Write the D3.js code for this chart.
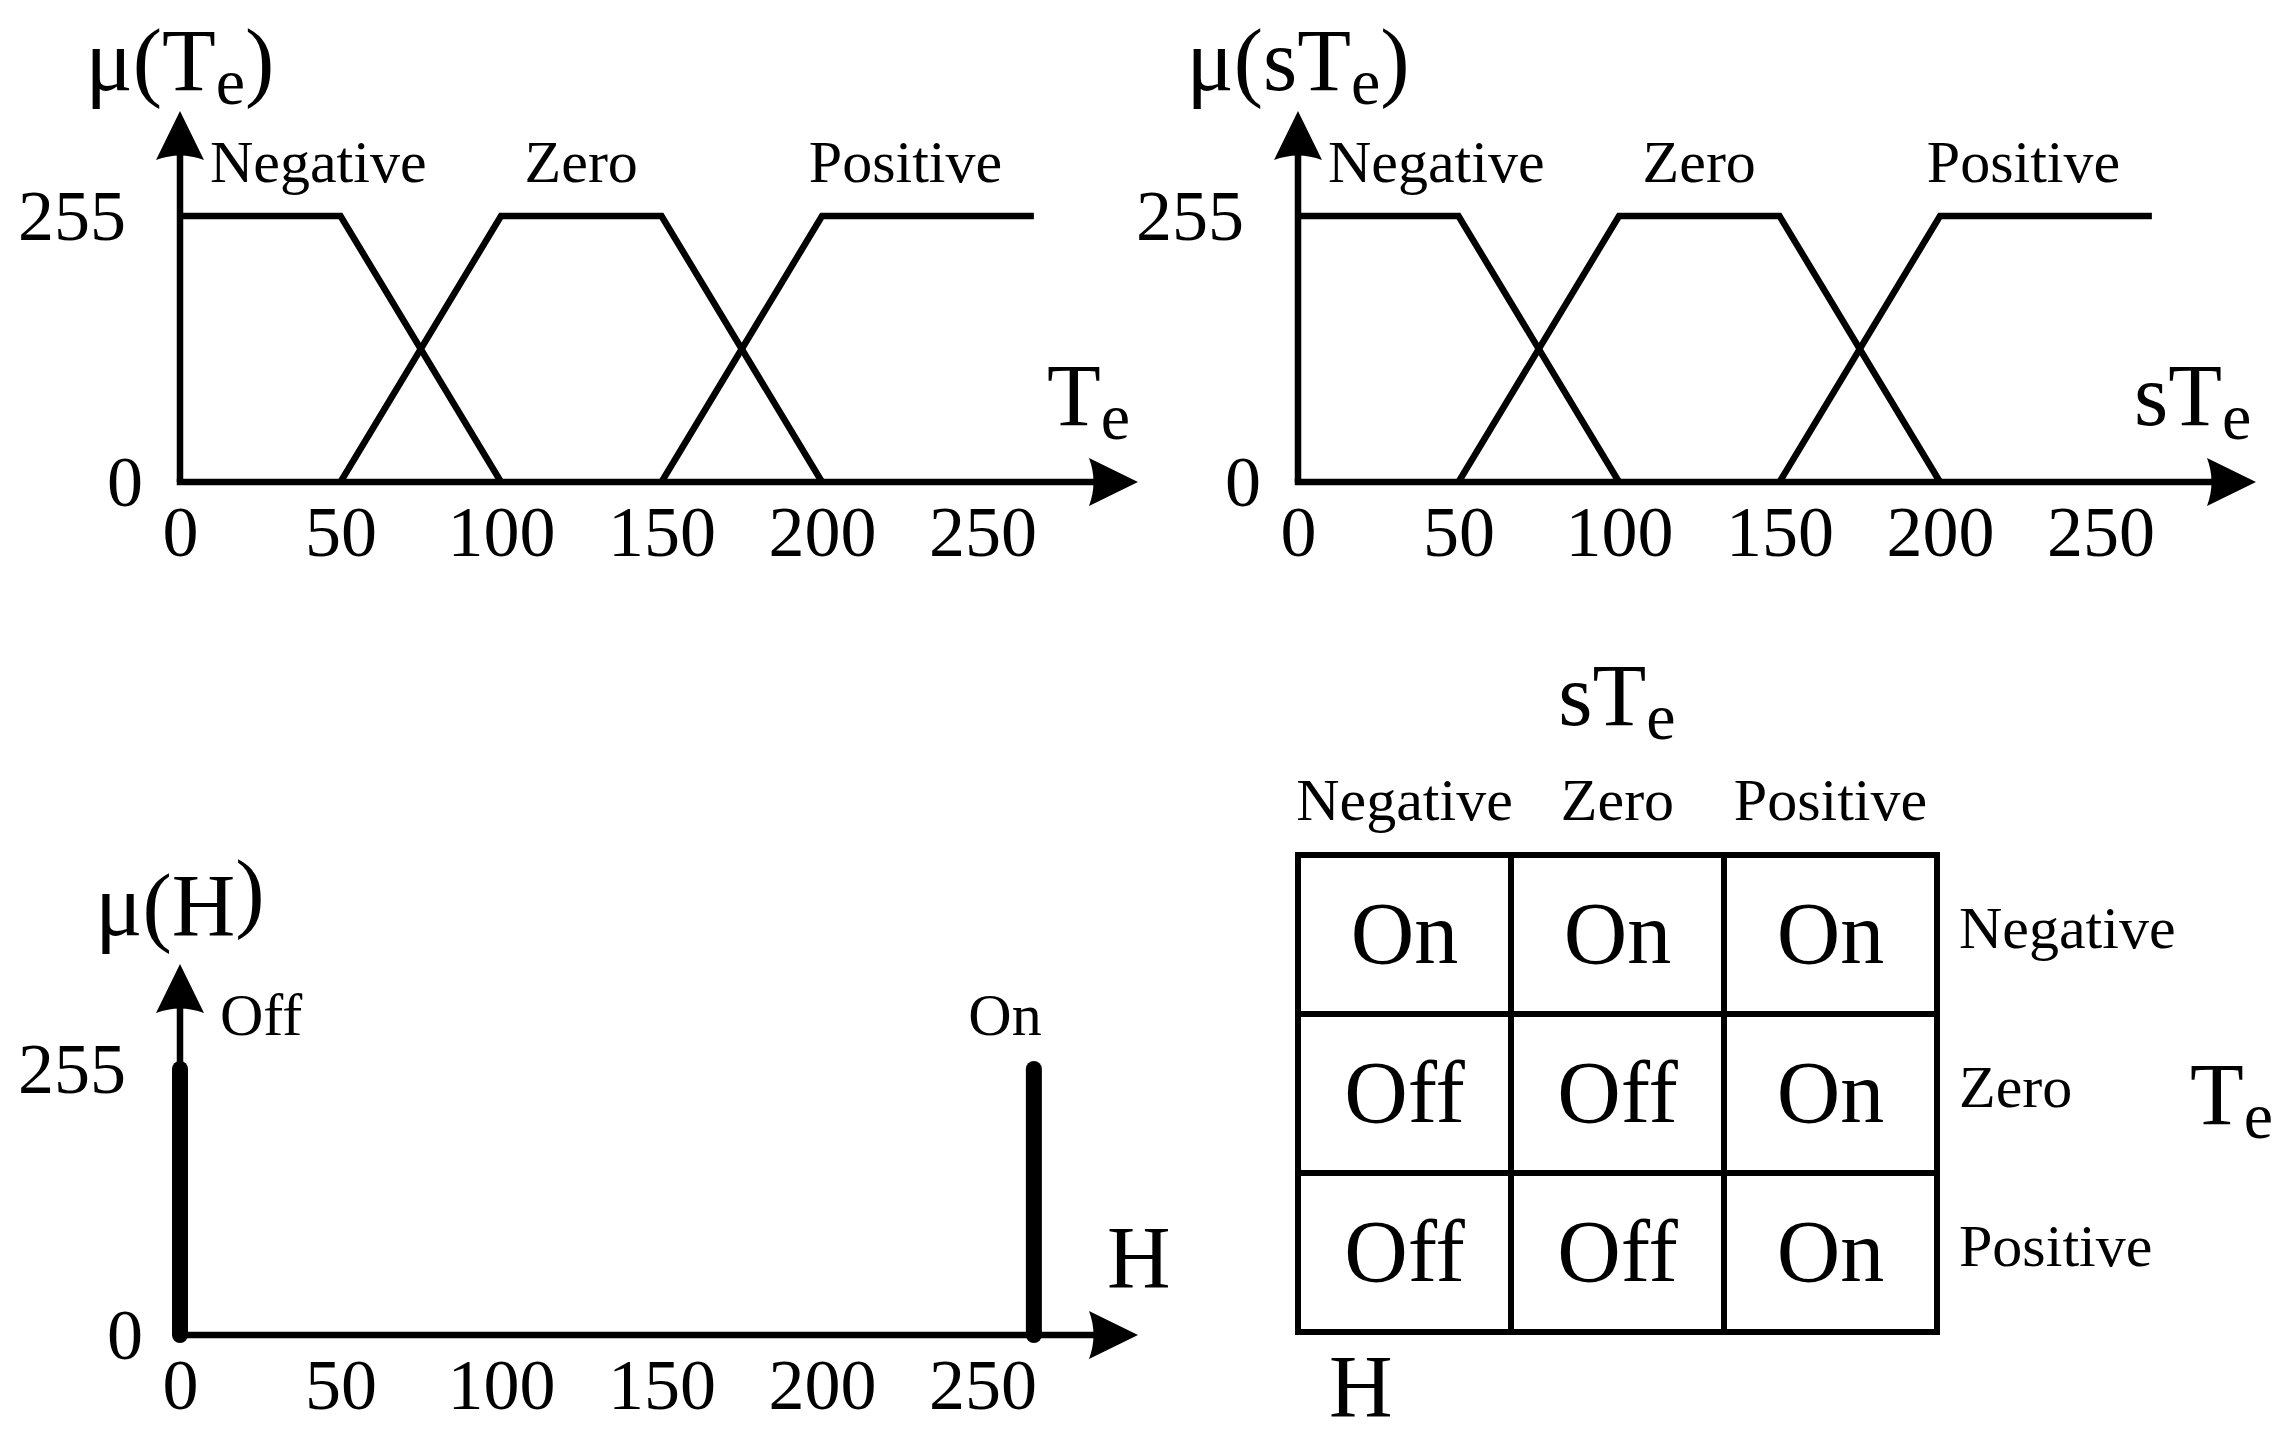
<!DOCTYPE html>
<html><head><meta charset="utf-8">
<script src="https://cdn.jsdelivr.net/npm/d3@7"></script>
<style>
body{margin:0;background:#fff}
svg text{font-family:"Liberation Serif","Times New Roman",serif;fill:#000}
</style>
</head><body>
<svg id="chart" width="2289" height="1440"></svg>
<script>
// ---------------- data ----------------
const xTicks = [0, 50, 100, 150, 200, 250];
const yTicks = [0, 255];
const setNames = ["Negative", "Zero", "Positive"];
const negX = [0, 50, 100],        negY = [255, 255, 0];
const zeroX = [50, 100, 150, 200], zeroY = [0, 255, 255, 0];
const posX = [150, 200, 266],     posY = [0, 255, 255];
const setLabelAt = [null, 125, 226];   // x value where the set name is centred (null = next to axis)
const outNames = ["Off", "On"];
const outX = [0, 266];
const outY = [255, 255];
const ruleRows = ["Negative", "Zero", "Positive"];   // Te
const ruleCols = ["Negative", "Zero", "Positive"];   // sTe
const ruleOut = [["On", "On", "On"], ["Off", "Off", "On"], ["Off", "Off", "On"]];

// ---------------- layout ----------------
const svg = d3.select("#chart");
svg.append("rect").attr("width", 2289).attr("height", 1440).attr("fill", "#fff");

const x = d3.scaleLinear().domain([0, 250]).range([0, 802.5]);
const y = d3.scaleLinear().domain([0, 255]).range([0, -266]);
const SW = 6.5;
const TITLE = 88, SUB = 66, TICK = 72, LBL = 60;

function subText(g, px, py, main, sub, tail, size, subSize, anchor) {
  const t = g.append("text").attr("x", px).attr("y", py)
    .attr("font-size", size).attr("text-anchor", anchor || "start");
  t.append("tspan").text(main);
  t.append("tspan").attr("font-size", subSize).attr("dy", size * 0.16).text(sub);
  if (tail) t.append("tspan").attr("dy", -size * 0.16).text(tail);
  return t;
}

function axes(g, opts) {
  const tipY = -371, tipX = 958;
  g.append("line").attr("x1", 0).attr("y1", 0).attr("x2", 0).attr("y2", tipY + 30)
    .attr("stroke", "#000").attr("stroke-width", SW);
  g.append("line").attr("x1", -SW / 2).attr("y1", 0).attr("x2", tipX - 30).attr("y2", 0)
    .attr("stroke", "#000").attr("stroke-width", SW);
  g.append("path").attr("d", `M0,${tipY} L-24,${tipY + 49} Q0,${tipY + 40} 24,${tipY + 49} Z`).attr("fill", "#000");
  g.append("path").attr("d", `M${tipX},0 L${tipX - 49},-24 Q${tipX - 40},0 ${tipX - 49},24 Z`).attr("fill", "#000");

  const xa = g.append("g").call(d3.axisBottom(x).tickValues(xTicks).tickSize(0).tickPadding(23).tickFormat(d3.format("d")));
  xa.select(".domain").remove();
  xa.selectAll("text").attr("font-size", TICK).attr("fill", "#000");
  xa.attr("font-family", null).attr("font-size", null);

  const ya = g.append("g").call(d3.axisLeft(y).tickValues(yTicks).tickSize(0).tickPadding(54).tickFormat(d3.format("d")));
  ya.select(".domain").remove();
  ya.selectAll("text").attr("font-size", TICK).attr("fill", "#000")
    .attr("dx", d => d === 0 ? 17 : 0);
  ya.attr("font-family", null).attr("font-size", null);

  subText(g, 0, opts.titleY, opts.titleMain, opts.titleSub, ")", TITLE, SUB, "middle");
  subText(g, opts.xlabX, opts.xlabY, opts.xlabMain, opts.xlabSub, null, TITLE, SUB, "start");
}

function mfPanel(ox, oy, varName) {
  const g = svg.append("g").attr("transform", `translate(${ox},${oy})`);
  axes(g, {
    titleY: -392, titleMain: "μ(" + varName, titleSub: "e",
    xlabX: varName === "T" ? 867 : 836, xlabY: -57, xlabMain: varName, xlabSub: "e"
  });
  const line = d3.line().x(d => x(d[0])).y(d => y(d[1]));
  const sets = [[negX, negY], [zeroX, zeroY], [posX, posY]];
  sets.forEach(([xs, ys]) => {
    g.append("path").attr("d", line(xs.map((v, i) => [v, ys[i]])))
      .attr("fill", "none").attr("stroke", "#000").attr("stroke-width", SW)
      .attr("stroke-linejoin", "miter");
  });
  setNames.forEach((n, i) => {
    const t = g.append("text").attr("font-size", LBL).attr("y", y(255) - 34).text(n);
    if (setLabelAt[i] === null) t.attr("x", 30).attr("text-anchor", "start");
    else t.attr("x", x(setLabelAt[i])).attr("text-anchor", "middle");
  });
}

mfPanel(180, 482, "T");
mfPanel(1298, 482, "sT");

// ---- output panel ----
(function () {
  const g = svg.append("g").attr("transform", "translate(180,1335)");
  axes(g, {
    titleY: -400, titleMain: "μ(H", titleSub: "", xlabX: 927, xlabY: -48, xlabMain: "H", xlabSub: ""
  });
  outX.forEach((v, i) => {
    g.append("line").attr("x1", x(v)).attr("x2", x(v)).attr("y1", y(0)).attr("y2", y(outY[i]))
      .attr("stroke", "#000").attr("stroke-width", 16).attr("stroke-linecap", "round");
  });
  g.append("text").attr("font-size", LBL).attr("x", 40).attr("y", y(255) - 34).text(outNames[0]);
  g.append("text").attr("font-size", LBL).attr("x", x(257)).attr("y", y(255) - 34)
    .attr("text-anchor", "middle").text(outNames[1]);
})();

// ---- rule table ----
(function () {
  const cx = d3.scaleBand().domain(ruleCols).range([1298, 1937]);
  const ry = d3.scaleBand().domain(ruleRows).range([855, 1332]);
  const g = svg.append("g");
  ruleRows.forEach((r, i) => ruleCols.forEach((c, j) => {
    g.append("rect").attr("x", cx(c)).attr("y", ry(r)).attr("width", cx.bandwidth()).attr("height", ry.bandwidth())
      .attr("fill", "none").attr("stroke", "#000").attr("stroke-width", 6);
    g.append("text").attr("x", cx(c) + cx.bandwidth() / 2).attr("y", ry(r) + ry.bandwidth() / 2 + 28)
      .attr("text-anchor", "middle").attr("font-size", 88).text(ruleOut[i][j]);
  }));
  ruleCols.forEach(c => g.append("text").attr("x", cx(c) + cx.bandwidth() / 2).attr("y", 820)
    .attr("text-anchor", "middle").attr("font-size", LBL).text(c));
  ruleRows.forEach(r => g.append("text").attr("x", 1959).attr("y", ry(r) + ry.bandwidth() / 2 + 13)
    .attr("font-size", LBL).text(r));
  subText(g, 1617, 725, "sT", "e", null, TITLE, SUB, "middle");
  subText(g, 2190, 1124, "T", "e", null, TITLE, SUB, "start");
  g.append("text").attr("x", 1329).attr("y", 1416).attr("font-size", TITLE).text("H");
})();
</script>
</body></html>
